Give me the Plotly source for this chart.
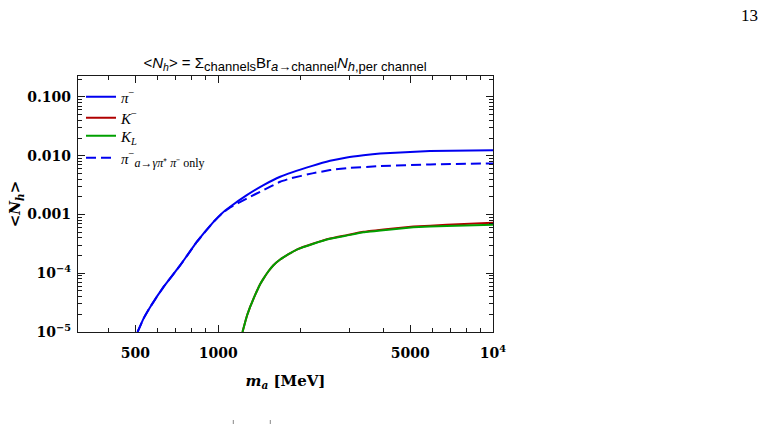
import plotly.graph_objects as go

# ---- data ----
m_pi = [509, 535, 566, 633, 728, 836, 962, 1031, 1106, 1271, 1462, 1681, 2200, 2553, 2939, 3377, 3884, 5902, 10000]
n_pi = [1.0e-5, 1.69e-5, 2.67e-5, 5.85e-5, 1.37e-4, 3.41e-4, 7.48e-4, 1.04e-3, 1.35e-3, 2.13e-3, 3.16e-3,
        4.38e-3, 6.7e-3, 8.2e-3, 9.35e-3, 1.02e-2, 1.09e-2, 1.20e-2, 1.24e-2]

m_pi_dash = [509, 535, 566, 633, 728, 836, 962, 1031, 1106, 1271, 1462, 1681, 1828, 2200, 2553, 2938, 3884, 5902, 10000]
n_pi_dash = [1.0e-5, 1.69e-5, 2.67e-5, 5.85e-5, 1.37e-4, 3.41e-4, 7.48e-4, 1.03e-3, 1.32e-3, 1.87e-3, 2.6e-3,
             3.6e-3, 4.1e-3, 5.0e-3, 5.69e-3, 6.15e-3, 6.65e-3, 7.1e-3, 7.4e-3]

m_k = [1226, 1254, 1278, 1307, 1345, 1382, 1421, 1462, 1524, 1589, 1681, 1803, 1932, 2222, 2555, 2938, 3377,
       4164, 5132, 6784, 10000]
n_kminus = [1.0e-5, 1.48e-5, 2.0e-5, 2.67e-5, 3.70e-5, 4.93e-5, 6.50e-5, 8.1e-5, 1.08e-4, 1.37e-4, 1.71e-4,
            2.11e-4, 2.53e-4, 3.20e-4, 3.90e-4, 4.45e-4, 5.08e-4, 5.68e-4, 6.25e-4, 6.65e-4, 7.2e-4]
n_kl = [1.0e-5, 1.48e-5, 2.0e-5, 2.67e-5, 3.70e-5, 4.93e-5, 6.50e-5, 8.1e-5, 1.08e-4, 1.37e-4, 1.71e-4,
        2.11e-4, 2.53e-4, 3.18e-4, 3.86e-4, 4.38e-4, 4.98e-4, 5.52e-4, 6.05e-4, 6.38e-4, 6.65e-4]

x_major = [500, 1000, 5000, 10000]
x_major_text = ["500", "1000", "5000", "10<sup>4</sup>"]
x_minor = [400, 600, 700, 800, 900, 2000, 3000, 4000, 6000, 7000, 8000, 9000]

y_major = [1e-5, 1e-4, 1e-3, 1e-2, 1e-1]
y_major_text = ["10<sup>−5</sup>", "10<sup>−4</sup>", "0.001", "0.010", "0.100"]
y_minor = [k * 10.0 ** e for e in range(-5, 0) for k in range(2, 10)] + [0.2]

legend_names = ["<i>π</i><sup>−</sup>", "<i>K</i><sup>−</sup>", "<i>K<sub>L</sub></i>",
                "<i>π</i><sup>−</sup><sub><span style=\"font-size:12px\"><i>a→γπ</i>⁺ <i>π</i>⁻ only</span></sub>"]

# ---- layout geometry (pixels) ----
W, H = 767, 424
L, R, T, B = 78, 274, 76, 92
PW, PH = W - L - R, H - T - B


def px2paper(px, py):
    return (px - L) / PW, (H - B - py) / PH


BLUE = "#0000f0"
RED = "#b00000"
GREEN = "#00a000"
FRAME = "#1a1a1a"

serif = "DejaVu Serif"
lserif = "Liberation Serif"

legend_y_px = [97, 118, 136, 158]
legend_keys = ["legend", "legend2", "legend3", "legend4"]

fig = go.Figure()
traces = [
    (m_pi, n_pi, BLUE, "solid"),
    (m_k, n_kminus, RED, "solid"),
    (m_k, n_kl, GREEN, "solid"),
    (m_pi_dash, n_pi_dash, BLUE, "10px,5px"),
]
for i, (mx, ny, col, dash) in enumerate(traces):
    fig.add_trace(go.Scatter(x=mx, y=ny, mode="lines", name=legend_names[i],
                             legend=legend_keys[i],
                             line=dict(color=col, width=2, dash=dash, shape="spline", smoothing=0.3)))

xr = [2.49, 4.0]
yr = [-5.0, -0.644]

axis_common = dict(showline=True, linecolor=FRAME, linewidth=1.4, mirror="ticks",
                   ticks="inside", tickcolor=FRAME, tickwidth=1.2, ticklen=7,
                   showgrid=False, zeroline=False, type="log")

legends = {}
for key, ypx in zip(legend_keys, legend_y_px):
    lx, ly = px2paper(81, ypx)
    legends[key] = dict(x=lx, y=ly, xanchor="left", yanchor="middle",
                        bgcolor="rgba(0,0,0,0)", borderwidth=0,
                        font=dict(family=lserif, size=15, color="black"),
                        itemwidth=30)

sub = "<sub><span style=\"font-size:13px\">{}</span></sub>"
title_text = ("&lt;<i>N<sub>h</sub></i>&gt; = Σ" + sub.format("channels") +
              "Br" + sub.format("<i>a</i>→channel") +
              "<i>N</i>" + sub.format("<i>h</i>,per channel"))

fig.update_layout(
    width=W, height=H,
    margin=dict(l=L, r=R, t=T, b=B, pad=0),
    paper_bgcolor="white", plot_bgcolor="white",
    showlegend=True,
    title=dict(text=title_text,
               x=285 / W, xanchor="center", y=1 - 63 / H, yanchor="middle",
               font=dict(family="Liberation Sans", size=15, color="black")),
    xaxis=dict(**axis_common, range=xr, tickvals=x_major, ticktext=x_major_text,
               minor=dict(tickmode="array", tickvals=x_minor, ticks="inside", ticklen=4,
                          tickcolor=FRAME, tickwidth=1),
               tickfont=dict(family=serif, size=14, color="black", weight="bold"),
               ticklabelstandoff=8,
               title=dict(text="<i>m<sub>a</sub></i> [MeV]",
                          font=dict(family=serif, size=15, color="black", weight="bold"), standoff=15)),
    yaxis=dict(**axis_common, range=yr, tickvals=y_major, ticktext=y_major_text,
               minor=dict(tickmode="array", tickvals=y_minor, ticks="inside", ticklen=4,
                          tickcolor=FRAME, tickwidth=1),
               tickfont=dict(family=serif, size=14, color="black", weight="bold"),
               ticklabelstandoff=3,
               title=dict(text="&lt;<i>N<sub>h</sub></i>&gt;",
                          font=dict(family=serif, size=15, color="black", weight="bold"), standoff=2)),
    **legends,
)

# page number and tiny marks from the surrounding page
px, py = px2paper(749, 15)
fig.add_annotation(text="13", x=px, y=py, xref="paper", yref="paper",
                   xanchor="center", yanchor="middle", showarrow=False,
                   font=dict(family=lserif, size=17, color="black"))

for mx in (233.3, 270.3):
    x0, y0 = px2paper(mx, 420)
    x1, y1 = px2paper(mx, 424)
    fig.add_shape(type="line", xref="paper", yref="paper", x0=x0, y0=y0, x1=x1, y1=y1,
                  line=dict(color="#888888", width=1))

fig.write_html("out.html")
